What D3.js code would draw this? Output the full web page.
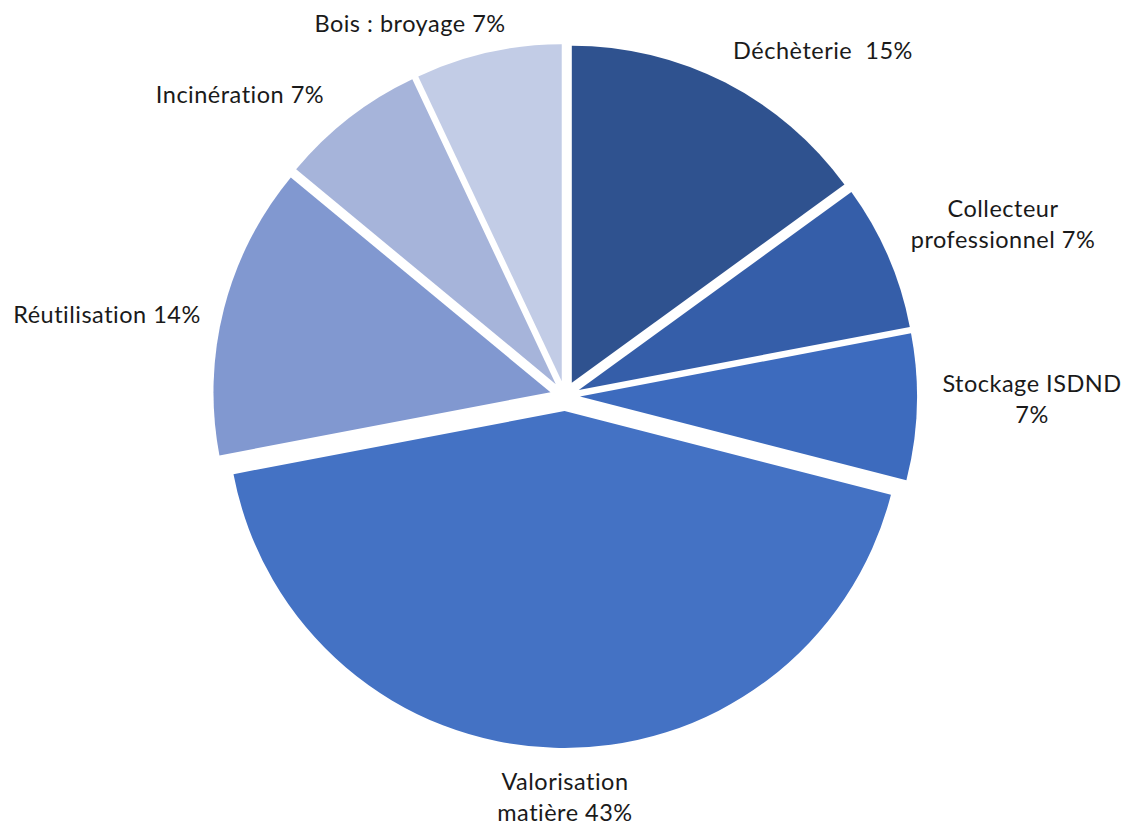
<!DOCTYPE html>
<html lang="fr">
<head>
<meta charset="utf-8">
<title>Répartition des filières</title>
<script src="https://cdn.jsdelivr.net/npm/d3@7"></script>
<style>
  html, body { margin: 0; padding: 0; background: #ffffff; }
  svg { display: block; }
  .label { font-family: Lato, "Open Sans", sans-serif; font-size: 23.5px; letter-spacing: 0.5px; fill: #1a1a1a; }
</style>
</head>
<body>
<svg id="chart" width="1125" height="825"></svg>
<script>
// Filières de traitement et part de chacune (%)
const categories = [
  "Déchèterie",
  "Collecteur professionnel",
  "Stockage ISDND",
  "Valorisation matière",
  "Réutilisation",
  "Incinération",
  "Bois : broyage"
];
const shares = [15, 7, 7, 43, 14, 7, 7];
const colors = ["#2f528f", "#355ea9", "#3d6bbe", "#4472c4", "#8198d0", "#a6b4da", "#c2cce6"];

// Texte des étiquettes (une entrée par ligne)
const labelLines = [
  ["Déchèterie  15%"],
  ["Collecteur", "professionnel 7%"],
  ["Stockage ISDND", "7%"],
  ["Valorisation", "matière 43%"],
  ["Réutilisation 14%"],
  ["Incinération 7%"],
  ["Bois : broyage 7%"]
];

// Mise en page
const width = 1125, height = 825;
const cx = 565, cy = 396, radius = 337;
const explode = 15;           // décalage radial de chaque part
const lineHeight = 31;
// Position (centre horizontal, ligne de base de la première ligne) de chaque étiquette
const labelAnchors = [
  [823, 59], [1003, 217], [1032, 392], [565, 790], [107, 323], [240, 103], [410, 32]
];

const svg = d3.select("#chart");
const g = svg.append("g").attr("transform", `translate(${cx},${cy})`);

const pie = d3.pie().sort(null).value(d => d.value).startAngle(0).endAngle(2 * Math.PI);
const arc = d3.arc().innerRadius(0).outerRadius(radius);

const data = categories.map((c, i) => ({ name: c, value: shares[i], color: colors[i], lines: labelLines[i], anchor: labelAnchors[i] }));
const arcs = pie(data);

g.selectAll("path.slice")
  .data(arcs)
  .join("path")
  .attr("class", "slice")
  .attr("fill", d => d.data.color)
  .attr("transform", d => {
    const a = (d.startAngle + d.endAngle) / 2;
    return `translate(${explode * Math.sin(a)},${-explode * Math.cos(a)})`;
  })
  .attr("d", arc);

const labels = svg.selectAll("text.label")
  .data(arcs)
  .join("text")
  .attr("class", "label")
  .attr("text-anchor", "middle")
  .attr("x", d => d.data.anchor[0])
  .attr("y", d => d.data.anchor[1]);

labels.selectAll("tspan")
  .data(d => d.data.lines.map((t, i) => ({ t, i, x: d.data.anchor[0] })))
  .join("tspan")
  .attr("x", d => d.x)
  .attr("dy", d => d.i === 0 ? 0 : lineHeight)
  .attr("xml:space", "preserve")
  .text(d => d.t);
</script>
</body>
</html>
